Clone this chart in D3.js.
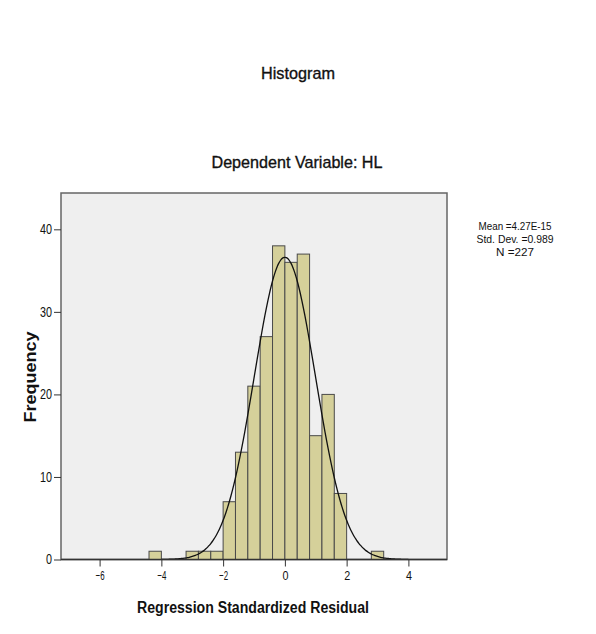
<!DOCTYPE html>
<html>
<head>
<meta charset="utf-8">
<script src="https://cdn.jsdelivr.net/npm/d3@7"></script>
<style>
  body { margin: 0; background: #fff; }
  text { font-family: "Liberation Sans", Arial, sans-serif; fill: #111; }
</style>
</head>
<body>
<div id="viz"></div>
<script>
// page size
const width = 596
const height = 634

// plot frame inside the page
const frame = {left: 61, top: 193, right: 447, bottom: 559.5}

// histogram bins (lower edge, upper edge) and counts
const binStart = [-4.4, -3.2, -2.8, -2.4, -2.0, -1.6, -1.2, -0.8, -0.4, 0.0, 0.4, 0.8, 1.2, 1.6, 2.8]
const binEnd   = [-4.0, -2.8, -2.4, -2.0, -1.6, -1.2, -0.8, -0.4, 0.0, 0.4, 0.8, 1.2, 1.6, 2.0, 3.2]
const counts   = [1, 1, 1, 1, 7, 13, 21, 27, 38, 36, 37, 15, 20, 8, 1]

// axis ticks
const xTicks = [-6, -4, -2, 0, 2, 4]
const yTicks = [0, 10, 20, 30, 40]

// summary statistics shown at the right
const stats = ["Mean =4.27E-15", "Std. Dev. =0.989", "N =227"]
const mean = 0
const sd = 0.989
const n = 227
const binWidth = 0.4

const svg = d3.select("#viz")
    .append("svg")
    .attr("width", width)
    .attr("height", height)

// scales
const x = d3.scaleLinear().domain([-7.25, 5.25]).range([frame.left, frame.right])
const y = d3.scaleLinear().domain([0, 44.4]).range([frame.bottom, frame.top])

// plot background
svg.append("rect")
    .attr("x", frame.left)
    .attr("y", frame.top)
    .attr("width", frame.right - frame.left)
    .attr("height", frame.bottom - frame.top)
    .attr("fill", "#efefef")
    .attr("stroke", "#666")
    .attr("stroke-width", 1.5)

// bars
svg.selectAll("rect.bar")
    .data(counts)
    .enter()
    .append("rect")
    .attr("class", "bar")
    .attr("x", function(d, i) { return x(binStart[i]) })
    .attr("y", function(d) { return y(d) })
    .attr("width", function(d, i) { return x(binEnd[i]) - x(binStart[i]) })
    .attr("height", function(d) { return y(0) - y(d) })
    .attr("fill", "#d5d09a")
    .attr("stroke", "#4a4a4a")
    .attr("stroke-width", 1)

// normal curve scaled to counts
const curvePts = d3.range(-4, 4.01, 0.05).map(function(v) {
    const pdf = Math.exp(-0.5 * Math.pow((v - mean) / sd, 2)) / (sd * Math.sqrt(2 * Math.PI))
    return [v, n * binWidth * pdf]
})
svg.append("path")
    .datum(curvePts)
    .attr("fill", "none")
    .attr("stroke", "#111")
    .attr("stroke-width", 1.3)
    .attr("d", d3.line().x(function(d) { return x(d[0]) }).y(function(d) { return y(d[1]) }).curve(d3.curveBasis))

// x axis
const xAxis = svg.append("g")
    .attr("transform", "translate(0," + frame.bottom + ")")
    .call(d3.axisBottom(x).tickValues(xTicks).tickSize(7).tickPadding(4).tickFormat(d3.format("d")))
xAxis.select(".domain").attr("stroke", "#333").attr("stroke-width", 1.5).attr("d", "M" + frame.left + ",0H" + frame.right)
xAxis.selectAll(".tick line").attr("stroke", "#333")
xAxis.selectAll(".tick text").style("font-size", "13px")
    .attr("textLength", function(d) { return d < 0 ? 9 : 6 })
    .attr("lengthAdjust", "spacingAndGlyphs")

// y axis
const yAxis = svg.append("g")
    .attr("transform", "translate(" + frame.left + ",0)")
    .call(d3.axisLeft(y).tickValues(yTicks).tickSize(7).tickPadding(2))
yAxis.select(".domain").remove()
yAxis.selectAll(".tick line").attr("stroke", "#333")
yAxis.selectAll(".tick text").style("font-size", "14px")
    .attr("textLength", function(d) { return d == 0 ? 6 : 12 })
    .attr("lengthAdjust", "spacingAndGlyphs")

// titles
svg.append("text")
    .attr("x", 298)
    .attr("y", 79)
    .attr("text-anchor", "middle")
    .attr("font-size", 17)
    .attr("stroke", "#111")
    .attr("stroke-width", 0.35)
    .attr("textLength", 74)
    .attr("lengthAdjust", "spacingAndGlyphs")
    .text("Histogram")

svg.append("text")
    .attr("x", 297)
    .attr("y", 168)
    .attr("text-anchor", "middle")
    .attr("font-size", 17)
    .attr("stroke", "#111")
    .attr("stroke-width", 0.35)
    .attr("textLength", 171)
    .attr("lengthAdjust", "spacingAndGlyphs")
    .text("Dependent Variable: HL")

// axis labels
svg.append("text")
    .attr("x", 253)
    .attr("y", 613)
    .attr("text-anchor", "middle")
    .attr("font-size", 16)
    .attr("font-weight", "bold")
    .attr("textLength", 232)
    .attr("lengthAdjust", "spacingAndGlyphs")
    .text("Regression Standardized Residual")

svg.append("text")
    .attr("transform", "translate(36,377) rotate(-90)")
    .attr("text-anchor", "middle")
    .attr("font-size", 16)
    .attr("font-weight", "bold")
    .attr("textLength", 91)
    .attr("lengthAdjust", "spacingAndGlyphs")
    .text("Frequency")

// statistics box
svg.append("g")
    .selectAll("text")
    .data(stats)
    .enter()
    .append("text")
    .attr("x", 515)
    .attr("y", function(d, i) { return 230 + i * 13 })
    .attr("text-anchor", "middle")
    .attr("font-size", 11.5)
    .attr("textLength", function(d, i) { return [73, 77, 38][i] })
    .attr("lengthAdjust", "spacingAndGlyphs")
    .text(function(d) { return d })
</script>
</body>
</html>
